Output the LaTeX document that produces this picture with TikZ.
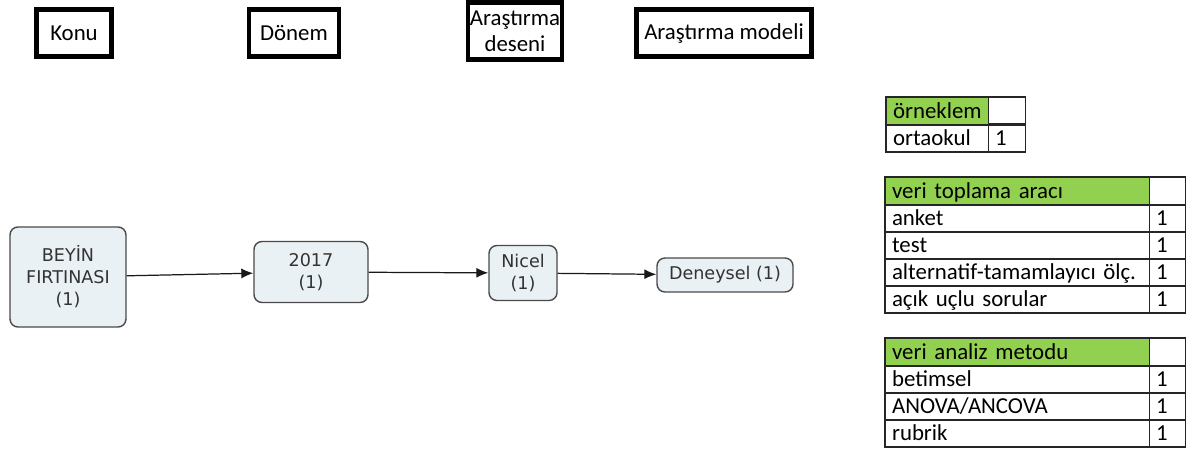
\documentclass[tikz,border=0pt]{standalone}
\usepackage{fontspec}
\setmainfont{Carlito}
\newfontfamily\flowfont{DejaVu Sans}
\usetikzlibrary{arrows.meta,positioning}
\definecolor{headgreen}{HTML}{92D050}
\definecolor{flowfill}{HTML}{EAF1F4}
\definecolor{flowline}{HTML}{4A4A4A}
\definecolor{flowtext}{HTML}{333333}
\tikzset{
  header/.style={draw=black,line width=2.4pt,align=center,inner sep=0pt,
    font=\fontsize{13}{15}\selectfont},
  flow/.style={draw=flowline,fill=flowfill,rounded corners=4.5pt,line width=0.8pt,
    align=center,inner sep=0pt,text=flowtext,font=\flowfont\fontsize{10}{12.5}\selectfont},
  cell/.style={draw=black!85,line width=0.6pt,anchor=north west,inner xsep=4pt,
    inner ysep=0pt,outer sep=0pt,align=left,minimum height=0.54cm,
    text height=0.9em,text depth=0.1em,font=\fontsize{13}{15}\selectfont},
  headcell/.style={cell,fill=headgreen,minimum height=0.56cm},
  namecol/.style={text width=1.76cm},
  numcol/.style={text width=0.46cm},
  widecol/.style={text width=5.0cm},
  smallcol/.style={text width=0.44cm},
  arrow/.style={-{Latex[length=2.4mm,width=2mm]},draw=black!90,line width=0.7pt}
}
\begin{document}
\begin{tikzpicture}[x=0.02cm,y=-0.02cm]
\useasboundingbox (0,0) rectangle (1195,450);
% basliklar
\node[header,minimum width=1.5cm,minimum height=0.94cm] (konu) at (74,33) {Konu};
\node[header,minimum width=1.8cm,minimum height=0.94cm] (donem) at (294,33) {Dönem};
\node[header,minimum width=1.88cm,minimum height=1.14cm] (desen) at (515,31) {Araştırma\\deseni};
\node[header,minimum width=3.5cm,minimum height=0.94cm] (model) at (724,33) {Araştırma modeli};

% akis
\node[flow,minimum width=2.32cm,minimum height=2cm] (beyin) at (68,277) {BEYİN\\FIRTINASI\\(1)};
\node[flow,minimum width=2.28cm,minimum height=1.22cm] (yil) at (311,272) {2017\\(1)};
\node[flow,minimum width=1.36cm,minimum height=1.1cm] (nicel) at (523,273) {Nicel\\(1)};
\node[flow,minimum width=2.72cm,minimum height=0.68cm] (deney) at (725,275) {Deneysel (1)};
\draw[arrow] (beyin) -- (yil);
\draw[arrow] (yil) -- (nicel);
\draw[arrow] (nicel) -- (deney);

% orneklem
\node[headcell,namecol] (orn) at (886,97) {örneklem};
\node[cell,numcol,anchor=north west] (ornv) at (orn.north east) {};
\node[cell,namecol] (orta) at (orn.south west) {ortaokul};
\node[cell,numcol] (ortav) at (orta.north east) {1};

% veri toplama araci
\node[headcell,widecol] (vta) at (885,177) {veri toplama aracı};
\node[cell,smallcol,minimum height=0.56cm] (vtav) at (vta.north east) {};
\node[cell,widecol] (anket) at (vta.south west) {anket};
\node[cell,smallcol] (anketv) at (anket.north east) {1};
\node[cell,widecol] (test) at (anket.south west) {test};
\node[cell,smallcol] (testv) at (test.north east) {1};
\node[cell,widecol] (alt) at (test.south west) {alternatif-tamamlayıcı ölç.};
\node[cell,smallcol] (altv) at (alt.north east) {1};
\node[cell,widecol] (acik) at (alt.south west) {açık uçlu sorular};
\node[cell,smallcol] (acikv) at (acik.north east) {1};

% veri analiz metodu
\node[headcell,widecol] (vam) at (885,338) {veri analiz metodu};
\node[cell,smallcol,minimum height=0.56cm] (vamv) at (vam.north east) {};
\node[cell,widecol] (bet) at (vam.south west) {betimsel};
\node[cell,smallcol] (betv) at (bet.north east) {1};
\node[cell,widecol] (anova) at (bet.south west) {ANOVA/ANCOVA};
\node[cell,smallcol] (anovav) at (anova.north east) {1};
\node[cell,widecol] (rub) at (anova.south west) {rubrik};
\node[cell,smallcol] (rubv) at (rub.north east) {1};
\end{tikzpicture}
\end{document}
